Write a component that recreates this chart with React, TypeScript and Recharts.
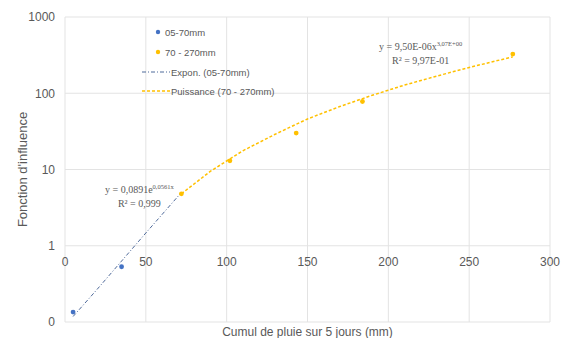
import React from 'react';
import {
  ScatterChart, Scatter, XAxis, YAxis, CartesianGrid, Legend, ReferenceDot,
} from 'recharts';

// measured points
const rain0570 = [5, 35];
const infl0570 = [0.135, 0.53];
const rain70270 = [72, 102, 143, 184, 277];
const infl70270 = [4.8, 13, 30, 78, 326];

// trendlines
const expoRain = [5, 20, 35, 50, 72];
const expoInfl = [0.118, 0.27, 0.63, 1.47, 5.0];
const powRain = [72, 90, 110, 130, 150, 170, 190, 210, 230, 250, 277];
const powInfl = [4.8, 9.5, 17.6, 29, 46, 67, 94, 128, 168, 218, 300];

const xTicks = [0, 50, 100, 150, 200, 250, 300];
const yTicks = [0.1, 1, 10, 100, 1000];

const legendNames = ['05-70mm', '70 - 270mm', 'Expon. (05-70mm)', 'Puissance (70 - 270mm)'];

const BLUE = '#4472C4';
const BLUE_LINE = '#4F6A9A';
const YELLOW = '#FFC000';
const TEXT = '#595959';
const FONT = '"Liberation Sans", Arial, sans-serif';

const toPts = (xs: number[], ys: number[]) => xs.map((x, i) => ({ x, y: ys[i] }));

const dot = (color: string) => (props: any) => (
  <circle cx={props.cx} cy={props.cy} r={2.4} fill={color} />
);
const noDot = () => <g />;

const XTick = (props: any) => (
  <text x={props.x} y={266} textAnchor="middle" fill={TEXT} fontSize={12} fontFamily={FONT}>
    {props.payload.value}
  </text>
);

const LegendBox = () => (
  <svg width={140} height={80}>
    <circle cx={18} cy={10} r={2.2} fill={BLUE} />
    <text x={25} y={13.5} fontSize={9.5} fill={TEXT} fontFamily={FONT}>{legendNames[0]}</text>
    <circle cx={18} cy={30} r={2.2} fill={YELLOW} />
    <text x={25} y={33.5} fontSize={9.5} fill={TEXT} fontFamily={FONT}>{legendNames[1]}</text>
    <line x1={2} x2={30} y1={50} y2={50} stroke={BLUE_LINE} strokeWidth={1} strokeDasharray="4 2 1 2" />
    <text x={31} y={53.5} fontSize={9.5} fill={TEXT} fontFamily={FONT}>{legendNames[2]}</text>
    <line x1={2} x2={30} y1={69} y2={69} stroke={YELLOW} strokeWidth={1.5} strokeDasharray="3 2" />
    <text x={31} y={72.5} fontSize={9.5} fill={TEXT} fontFamily={FONT}>{legendNames[3]}</text>
  </svg>
);

const equation = (eq: string, sup: string, r2: string) => (props: any) => {
  const { x, y } = props.viewBox;
  return (
    <text textAnchor="middle" fill={TEXT} fontFamily='"Liberation Serif", "DejaVu Serif", serif' fontSize={10}>
      <tspan x={x} y={y - 3}>
        {eq}
        <tspan fontSize={6.5} dy={-4}>{sup}</tspan>
      </tspan>
      <tspan x={x} y={y + 11}>{r2}</tspan>
    </text>
  );
};

export default function App() {
  return (
    <div style={{ position: 'absolute', left: 0, top: 0, background: '#fff' }}>
      <ScatterChart width={577} height={338} margin={{ top: 17, right: 27, left: 10, bottom: 0 }}>
        <CartesianGrid stroke="#E3E3E3" strokeWidth={1} />
        <XAxis
          type="number"
          dataKey="x"
          domain={[0, 300]}
          ticks={xTicks}
          height={16}
          axisLine={false}
          tickLine={false}
          tick={<XTick />}
          label={{
            value: 'Cumul de pluie sur 5 jours (mm)',
            position: 'insideBottom',
            offset: 2,
            fill: TEXT,
            fontSize: 12,
            fontFamily: FONT,
          }}
        />
        <YAxis
          type="number"
          dataKey="y"
          scale="log"
          domain={[0.1, 1000]}
          ticks={yTicks}
          allowDataOverflow
          width={55}
          axisLine={false}
          tickLine={false}
          tickMargin={4}
          tickFormatter={(v: number) => (v < 1 ? '0' : String(v))}
          tick={{ fill: TEXT, fontSize: 12, fontFamily: FONT }}
          label={{
            value: "Fonction d'influence",
            angle: -90,
            position: 'insideLeft',
            offset: 12,
            fill: TEXT,
            fontSize: 13,
            fontFamily: FONT,
            style: { textAnchor: 'middle' },
          }}
        />
        <Legend
          layout="vertical"
          align="center"
          verticalAlign="middle"
          wrapperStyle={{ left: 140, top: 22, width: 140, height: 80 }}
          content={() => <LegendBox />}
        />
        <Scatter
          name="Expon. (05-70mm)"
          data={toPts(expoRain, expoInfl)}
          line={{ stroke: BLUE_LINE, strokeWidth: 1, strokeDasharray: '4 2 1 2' }}
          shape={noDot}
          isAnimationActive={false}
        />
        <Scatter
          name="Puissance (70 - 270mm)"
          data={toPts(powRain, powInfl)}
          line={{ stroke: YELLOW, strokeWidth: 1.5, strokeDasharray: '3 2' }}
          shape={noDot}
          isAnimationActive={false}
        />
        <Scatter name="05-70mm" data={toPts(rain0570, infl0570)} shape={dot(BLUE)} isAnimationActive={false} />
        <Scatter name="70 - 270mm" data={toPts(rain70270, infl70270)} shape={dot(YELLOW)} isAnimationActive={false} />
        <ReferenceDot
          x={46}
          y={4.48}
          r={0}
          fill="none"
          stroke="none"
          label={{ content: equation('y = 0,0891e', '0,0561x', 'R² = 0,999') }}
        />
        <ReferenceDot
          x={220}
          y={341}
          r={0}
          fill="none"
          stroke="none"
          label={{ content: equation('y = 9,50E-06x', '3,07E+00', 'R² = 9,97E-01') }}
        />
      </ScatterChart>
    </div>
  );
}
